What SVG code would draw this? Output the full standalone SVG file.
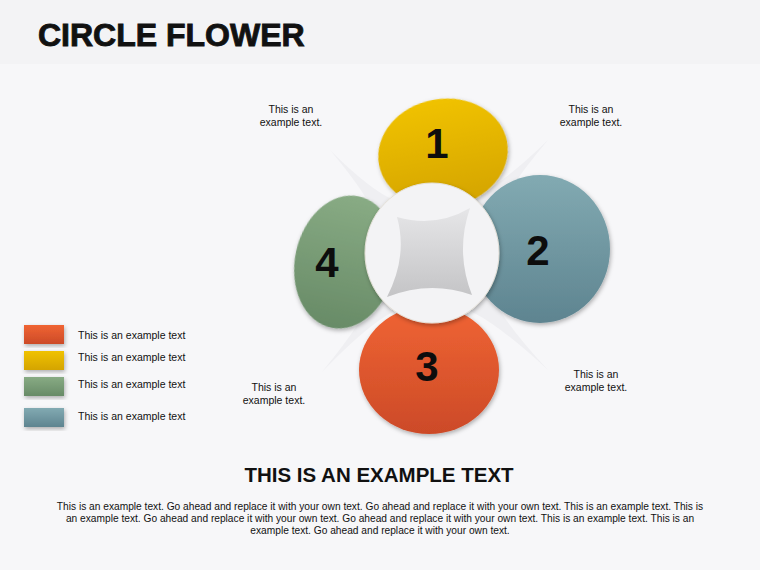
<svg xmlns="http://www.w3.org/2000/svg" width="760" height="570" viewBox="0 0 760 570">
<defs>
<style>
.t{font-family:"Liberation Sans",Arial,sans-serif;fill:#111}
.cap{font-size:10.5px;text-anchor:middle}
.leg{font-size:10.5px}
.num{font-size:42px;font-weight:bold;text-anchor:middle;fill:#0d0d0d}
.par{font-size:10.2px;text-anchor:middle}
</style>
<linearGradient id="gY" x1="0" y1="0" x2="0" y2="1"><stop offset="0" stop-color="#f0c200"/><stop offset="1" stop-color="#d4a400"/></linearGradient>
<linearGradient id="gT" x1="0" y1="0" x2="0" y2="1"><stop offset="0" stop-color="#82aab2"/><stop offset="1" stop-color="#5e8490"/></linearGradient>
<linearGradient id="gO" x1="0" y1="0" x2="0" y2="1"><stop offset="0" stop-color="#f06433"/><stop offset="1" stop-color="#cc4a28"/></linearGradient>
<linearGradient id="gG" x1="0" y1="0" x2="0" y2="1"><stop offset="0" stop-color="#88ab84"/><stop offset="1" stop-color="#688b67"/></linearGradient>
<linearGradient id="gS" x1="0" y1="0" x2="0" y2="1"><stop offset="0" stop-color="#e6e6e8"/><stop offset="1" stop-color="#c4c4c6"/></linearGradient>
<filter id="sh" x="-20%" y="-20%" width="140%" height="140%"><feDropShadow dx="1" dy="2" stdDeviation="2" flood-color="#000" flood-opacity="0.3"/></filter>
</defs>
<rect width="760" height="570" fill="#f7f7f9"/>
<rect width="760" height="64" fill="#f3f3f5"/>
<text class="t" x="38" y="46" font-size="32" font-weight="bold" stroke="#111" stroke-width="0.9">CIRCLE FLOWER</text>

<g id="backstar">
<path d="M330,150 Q420,240 432,180 Q445,240 548,140 Q460,245 500,255 Q455,270 548,370 Q440,270 432,325 Q420,270 322,372 Q410,265 365,255 Q410,245 330,150 Z" fill="#efeff2"/>
</g>

<g id="petal4"><ellipse cx="345" cy="262" rx="50" ry="67" transform="rotate(12 345 262)" fill="url(#gG)" filter="url(#sh)"/><text class="t num" x="327" y="277">4</text></g>
<g id="petal1"><ellipse cx="443" cy="153" rx="65" ry="54" transform="rotate(-10 443 153)" fill="url(#gY)" filter="url(#sh)"/><text class="t num" x="437" y="158">1</text></g>
<g id="petal2"><ellipse cx="540" cy="249" rx="70" ry="74" fill="url(#gT)" filter="url(#sh)"/><text class="t num" x="538" y="265">2</text></g>
<g id="petal3"><ellipse cx="429" cy="370" rx="70" ry="64" fill="url(#gO)" filter="url(#sh)"/><text class="t num" x="427" y="381">3</text></g>
<g id="center">
<ellipse cx="432" cy="253" rx="67" ry="70" fill="#f3f3f5" stroke="#e4e0d8" stroke-width="1" filter="url(#sh)"/>
<path d="M397,217 Q436,228 470,208 Q455,252 472,295 Q430,280 387,297 Q408,256 397,217 Z" fill="url(#gS)"/>
</g>

<g id="captions">
<text class="t cap" x="291" y="113">This is an</text><text class="t cap" x="291" y="126">example text.</text>
<text class="t cap" x="591" y="113">This is an</text><text class="t cap" x="591" y="126">example text.</text>
<text class="t cap" x="596" y="378">This is an</text><text class="t cap" x="596" y="391">example text.</text>
<text class="t cap" x="274" y="391">This is an</text><text class="t cap" x="274" y="404">example text.</text>
</g>

<g id="legend">
<rect x="24" y="325" width="40" height="19" fill="url(#gO)" filter="url(#sh)"/>
<rect x="24" y="351" width="40" height="19" fill="url(#gY)" filter="url(#sh)"/>
<rect x="24" y="377" width="40" height="19" fill="url(#gG)" filter="url(#sh)"/>
<rect x="24" y="408" width="40" height="19" fill="url(#gT)" filter="url(#sh)"/>
<text class="t leg" x="78" y="339">This is an example text</text>
<text class="t leg" x="78" y="361">This is an example text</text>
<text class="t leg" x="78" y="388">This is an example text</text>
<text class="t leg" x="78" y="420">This is an example text</text>
</g>

<text class="t" x="379" y="482" font-size="20.5" font-weight="bold" text-anchor="middle">THIS IS AN EXAMPLE TEXT</text>
<g id="paragraph">
<text class="t par" x="380" y="510">This is an example text. Go ahead and replace it with your own text. Go ahead and replace it with your own text. This is an example text. This is</text>
<text class="t par" x="380" y="522">an example text. Go ahead and replace it with your own text. Go ahead and replace it with your own text. This is an example text. This is an</text>
<text class="t par" x="380" y="534">example text. Go ahead and replace it with your own text.</text>
</g>
</svg>
